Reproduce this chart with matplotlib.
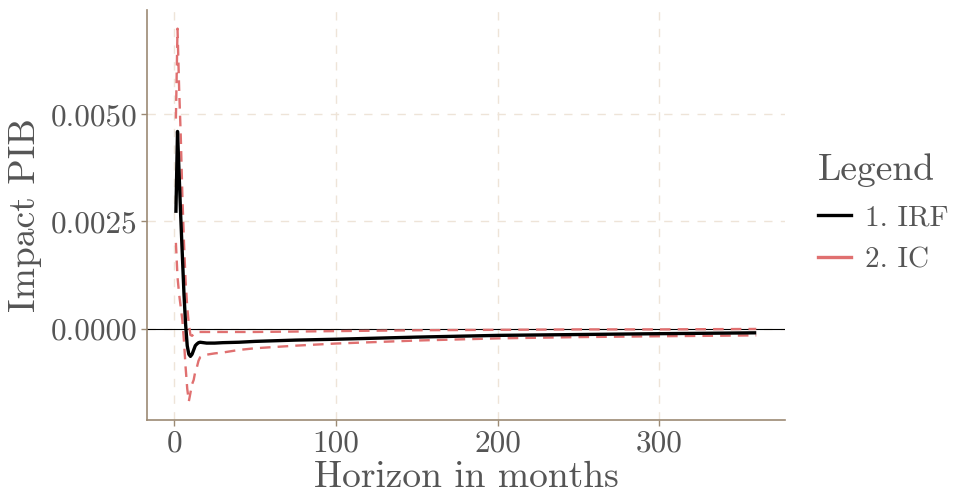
import matplotlib
matplotlib.use("Agg")
import matplotlib.pyplot as plt
from matplotlib.lines import Line2D

# ---- data ----
horizon = [1, 2, 3, 4, 5, 6, 7, 8, 9, 10, 11, 12, 13, 14, 15, 16, 18, 20, 25,
           30, 40, 50, 75, 100, 150, 200, 250, 300, 360]
irf = [0.0027, 0.0046, 0.0036, 0.0026, 0.0017, 0.0008, 0.0001, -0.0004, -0.0006,
       -0.00065, -0.0006, -0.0005, -0.0004, -0.00036, -0.00033, -0.00032, -0.00033,
       -0.00034, -0.00034, -0.00033, -0.00032, -0.0003, -0.00027, -0.00025,
       -0.0002, -0.00016, -0.00014, -0.00012, -0.0001]
ic_upper = [0.0049, 0.0070, 0.0056, 0.0045, 0.0031, 0.0020, 0.0011, 0.0005, 0.0001,
            -0.00015, -0.00017, -0.00013, -0.0001, -0.00009, -0.00008, -0.00008,
            -0.00008, -0.00008, -0.00008, -0.00008, -0.00008, -0.00008, -0.00007,
            -0.00006, -0.00004, -0.00003, -0.00002, -0.00002, -0.00001]
ic_lower = [0.0020, 0.0012, 0.0008, 0.0005, 0.0002, -0.0003, -0.0009, -0.0014, -0.0017,
            -0.0015, -0.0013, -0.0012, -0.0010, -0.0009, -0.00075, -0.00067, -0.00063,
            -0.00061, -0.00058, -0.00056, -0.0005, -0.00046, -0.0004, -0.00035,
            -0.00028, -0.00023, -0.0002, -0.00018, -0.00016]
x_ticks = [0, 100, 200, 300]
y_ticks = [0.0, 0.0025, 0.0050]
y_tick_labels = ["0.0000", "0.0025", "0.0050"]
legend_labels = ["1. IRF", "2. IC"]

# ---- style ----
plt.rcParams['font.family'] = ['cmr10', 'DejaVu Serif']
plt.rcParams['axes.formatter.use_mathtext'] = True
text_col = "#555555"
axis_col = "#9C8A74"
grid_col = "#EEE4D8"
red = "#E07070"

fig = plt.figure(figsize=(9.6, 5.0), dpi=100)
ax = fig.add_axes([0.153, 0.16, 0.665, 0.82])

ax.axhline(0, color="black", lw=0.8, zorder=2)
ax.plot(horizon, ic_upper, color=red, lw=1.7, ls=(0, (4.5, 3)), zorder=3)
ax.plot(horizon, ic_lower, color=red, lw=1.7, ls=(0, (4.5, 3)), zorder=3)
ax.plot(horizon, irf, color="black", lw=2.4, zorder=4, solid_capstyle='butt')

xr = max(horizon) - min(horizon)
ax.set_xlim(min(horizon) - 0.05 * xr, max(horizon) + 0.05 * xr)
ymin = min(ic_lower)
ymax = max(ic_upper)
yr = ymax - ymin
ax.set_ylim(ymin - 0.05 * yr, ymax + 0.05 * yr)

ax.set_xticks(x_ticks)
ax.set_xticklabels([str(t) for t in x_ticks])
ax.set_yticks(y_ticks)
ax.set_yticklabels(y_tick_labels)

ax.grid(True, color=grid_col, lw=1.0, ls=(0, (6, 6)), zorder=0)
ax.set_axisbelow(True)
for s in ["top", "right"]:
    ax.spines[s].set_visible(False)
for s in ["left", "bottom"]:
    ax.spines[s].set_color(axis_col)
    ax.spines[s].set_linewidth(1.2)
ax.tick_params(axis="both", colors=axis_col, length=4, width=1.0,
               labelsize=22.5, labelcolor=text_col, pad=3)

ax.set_xlabel("Horizon in months", fontsize=27, color=text_col, labelpad=2)
ax.set_ylabel("Impact PIB", fontsize=27, color=text_col, labelpad=6)

handles = [Line2D([], [], color="black", lw=2.4),
           Line2D([], [], color=red, lw=2.4)]
leg = fig.legend(handles, legend_labels, title="Legend", loc="upper left",
                 bbox_to_anchor=(0.852, 0.694), frameon=False, fontsize=21,
                 title_fontsize=27, handlelength=1.15, handletextpad=0.45,
                 labelspacing=0.55, borderaxespad=0, borderpad=0)
leg._legend_box.align = "left"
leg._legend_box.sep = 13
for t in leg.get_texts():
    t.set_color(text_col)
leg.get_title().set_color(text_col)

fig.savefig("out.png", dpi=100)
